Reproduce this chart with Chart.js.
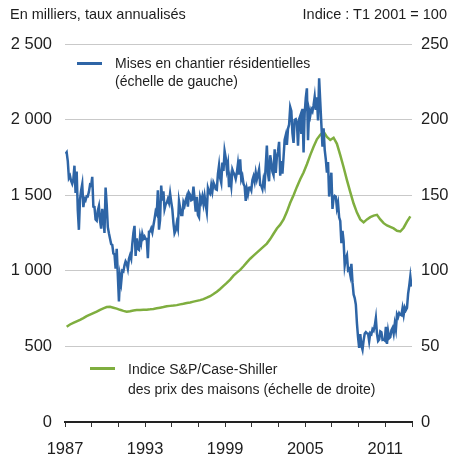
<!DOCTYPE html>
<html lang="fr">
<head>
<meta charset="utf-8">
<script src="https://cdn.jsdelivr.net/npm/chart.js@4/dist/chart.umd.min.js"></script>
<style>
  html, body { margin: 0; padding: 0; background: #fff; }
  #wrap { position: relative; width: 451px; height: 461px; font-family: "Liberation Sans", Arial, Helvetica, sans-serif; color: #1e1e1e; }
  #chart { position: absolute; left: 0; top: 0; }
  .txt { position: absolute; white-space: nowrap; font-size: 14px; line-height: 18px; }
  .head { font-size: 14.5px; }
  .key { position: absolute; width: 25px; height: 3px; }
</style>
</head>
<body>
<div id="wrap">
  <canvas id="chart" width="451" height="461"></canvas>
  <div class="txt head" style="left:10px; top:5px;">En milliers, taux annualisés</div>
  <div class="txt head" style="right:4px; top:5px;">Indice : T1 2001 = 100</div>

  <div class="key" style="left:77px; top:62px; background:#2e65a6;"></div>
  <div class="txt" style="left:115px; top:54px;">Mises en chantier résidentielles</div>
  <div class="txt" style="left:115px; top:72px;">(échelle de gauche)</div>

  <div class="key" style="left:90px; top:367px; background:#7fae3f;"></div>
  <div class="txt" style="left:128px; top:360px;">Indice S&amp;P/Case-Shiller</div>
  <div class="txt" style="left:128px; top:380px;">des prix des maisons (échelle de droite)</div>
</div>

<script>
// mises en chantier, milliers, taux annualisés, mensuel de janv. 1987 à déc. 2012
const startsFirstYear = 1987;
const housingStarts = [
  1774, 1784, 1726, 1614, 1628, 1594, 1575, 1605, 1695, 1515, 1656, 1400,
  1271, 1473, 1532, 1573, 1421, 1478, 1467, 1493, 1492, 1522, 1569, 1563,
  1621, 1425, 1422, 1339, 1331, 1397, 1427, 1332, 1279, 1410, 1351, 1251,
  1551, 1437, 1289, 1248, 1212, 1177, 1171, 1115, 1110, 1014, 1145, 969,
  798, 965, 921, 1001, 996, 1036, 1063, 1049, 1015, 1079, 1103, 1079,
  1176, 1250, 1297, 1099, 1214, 1145, 1139, 1226, 1186, 1244, 1214, 1227,
  1210, 1210, 1083, 1258, 1260, 1280, 1254, 1300, 1343, 1392, 1376, 1533,
  1272, 1337, 1564, 1465, 1526, 1409, 1439, 1450, 1474, 1450, 1511, 1455,
  1407, 1316, 1249, 1267, 1314, 1281, 1461, 1416, 1369, 1369, 1452, 1431,
  1467, 1491, 1424, 1516, 1504, 1467, 1472, 1557, 1475, 1392, 1489, 1370,
  1355, 1486, 1457, 1492, 1442, 1494, 1437, 1390, 1546, 1520, 1510, 1566,
  1525, 1584, 1567, 1540, 1536, 1641, 1698, 1614, 1582, 1715, 1660, 1792,
  1748, 1670, 1710, 1553, 1611, 1559, 1669, 1648, 1635, 1608, 1648, 1708,
  1636, 1737, 1604, 1626, 1575, 1559, 1463, 1541, 1507, 1549, 1551, 1532,
  1600, 1625, 1590, 1649, 1605, 1636, 1670, 1567, 1562, 1540, 1602, 1568,
  1698, 1829, 1642, 1592, 1764, 1717, 1655, 1633, 1804, 1648, 1753, 1788,
  1853, 1629, 1726, 1643, 1751, 1867, 1897, 1833, 1939, 1967, 2083, 2057,
  1911, 1846, 1998, 2003, 1981, 1828, 2002, 2024, 1905, 2072, 1782, 2042,
  2144, 2207, 1864, 2061, 2025, 2068, 2054, 2095, 2151, 2065, 2147, 1994,
  2273, 2119, 1969, 1821, 1942, 1802, 1737, 1650, 1720, 1491, 1570, 1649,
  1409, 1480, 1495, 1490, 1415, 1448, 1354, 1330, 1183, 1264, 1197, 1037,
  1084, 1103, 1005, 1013, 973, 1046, 923, 844, 820, 777, 652, 560,
  490, 582, 505, 478, 540, 585, 594, 586, 585, 534, 588, 581,
  614, 604, 636, 687, 583, 536, 546, 599, 594, 543, 545, 539,
  630, 517, 600, 554, 561, 608, 623, 585, 650, 610, 711, 694,
  720, 710, 706, 753, 708, 757, 740, 754, 847, 900, 962, 896
];

// indice S&P/Case-Shiller, trimestriel de T1 1987 à T4 2012
const priceIndex = [
  63, 64.5, 65.5, 66.5,
  67.5, 68.7, 70, 71,
  72, 73, 74.2, 75.2,
  76, 76.2, 75.6, 75,
  74.2, 73.5, 73, 73.3,
  73.8, 74, 74, 74.2,
  74.3, 74.5, 74.8, 75.2,
  75.6, 76, 76.5, 76.8,
  77, 77.3, 77.8, 78.2,
  78.7, 79.1, 79.6, 80.1,
  80.6, 81.3, 82.2, 83.2,
  84.6, 86.2, 88, 90,
  92, 94.2, 96.8, 98.8,
  100.6, 103, 105.6, 108,
  110, 112, 114, 116,
  118, 121, 124.5, 128,
  130.5, 134, 139, 145,
  150, 155.5, 160.5, 165,
  170.5, 176.5, 182, 187,
  190, 192, 188.5, 186.5,
  188, 184, 176.5, 168.5,
  160, 152, 144.5, 138.5,
  134, 132, 134, 135.5,
  136.5, 137, 134, 131.5,
  130, 129, 128, 126.5,
  126, 128.5, 132.5, 136
];

const yearTicks = [1987, 1989, 1991, 1993, 1995, 1997, 1999, 2001, 2003, 2005, 2007, 2009, 2011, 2013];
const yearLabels = [1987, 1993, 1999, 2005, 2011];
const leftTicks = [0, 500, 1000, 1500, 2000, 2500];
const rightTicks = [0, 50, 100, 150, 200, 250];

const blue = '#2e65a6';
const green = '#7fae3f';
const tickFont = { family: '"Liberation Sans", Arial, Helvetica, sans-serif', size: 16.5 };

// points placés au milieu du mois / du trimestre
const startsPoints = housingStarts.map((v, i) => ({ x: startsFirstYear + (i + 0.5) / 12, y: v }));
const pricePoints = priceIndex.map((v, i) => ({ x: startsFirstYear + (i + 0.5) / 4, y: v }));

const spaced = v => String(v).replace(/\B(?=(\d{3})+(?!\d))/g, ' ');

new Chart(document.getElementById('chart'), {
  type: 'line',
  data: {
    datasets: [{
      label: 'Mises en chantier résidentielles',
      data: startsPoints,
      yAxisID: 'yLeft',
      borderColor: blue,
      borderWidth: 2.5,
      pointRadius: 0,
      fill: false
    }, {
      label: 'Indice S&P/Case-Shiller',
      data: pricePoints,
      yAxisID: 'yRight',
      borderColor: green,
      borderWidth: 2.5,
      pointRadius: 0,
      fill: false
    }]
  },
  options: {
    responsive: false,
    animation: false,
    layout: { padding: { top: 44, left: 0, right: 0, bottom: 0 } },
    plugins: {
      legend: { display: false },
      tooltip: { enabled: false }
    },
    scales: {
      x: {
        type: 'linear',
        min: 1987,
        max: 2013,
        afterBuildTicks: s => { s.ticks = yearTicks.map(v => ({ value: v })); },
        afterFit: s => { s.height = 39; },
        ticks: {
          autoSkip: false,
          maxRotation: 0,
          padding: 13,
          color: '#1e1e1e',
          font: tickFont,
          callback: v => yearLabels.includes(v) ? String(v) : ''
        },
        grid: { drawOnChartArea: false, drawTicks: true, tickLength: 5, tickColor: '#333', lineWidth: 1 },
        border: { color: '#222', width: 2 }
      },
      yLeft: {
        position: 'left',
        min: 0,
        max: 2500,
        afterBuildTicks: s => { s.ticks = leftTicks.map(v => ({ value: v })); },
        afterFit: s => { s.width = 65; },
        ticks: { padding: 13, color: '#1e1e1e', font: tickFont, callback: v => spaced(v) },
        grid: { color: '#c9c9c9', lineWidth: 1, drawTicks: false },
        border: { display: false }
      },
      yRight: {
        position: 'right',
        min: 0,
        max: 250,
        afterBuildTicks: s => { s.ticks = rightTicks.map(v => ({ value: v })); },
        afterFit: s => { s.width = 39; },
        ticks: { padding: 9, color: '#1e1e1e', font: tickFont },
        grid: { display: false, drawTicks: false },
        border: { display: false }
      }
    }
  }
});
</script>
</body>
</html>
